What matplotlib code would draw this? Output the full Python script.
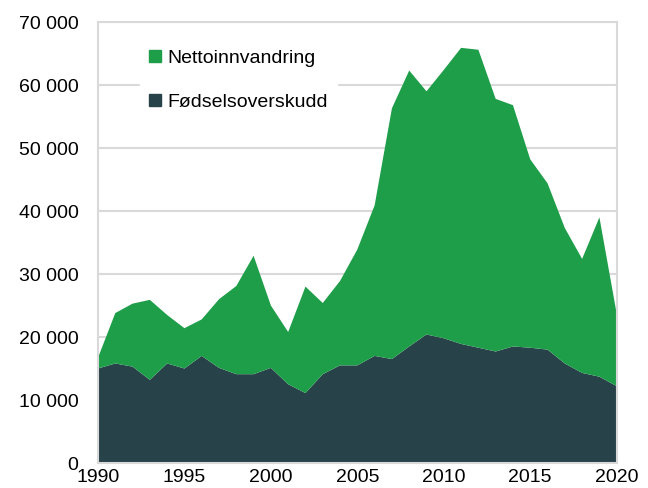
import matplotlib
matplotlib.use("Agg")
import matplotlib.pyplot as plt
from matplotlib.ticker import FuncFormatter, MultipleLocator
from matplotlib.lines import Line2D

plt.rcParams["font.family"] = ["Liberation Sans", "DejaVu Sans"]

# Befolkningsvekst etter komponent, 1990-2020
years = list(range(1990, 2021))
fodselsoverskudd = [15000, 15800, 15300, 13200, 15800, 15000, 17000, 15100, 14100, 14100,
                    15100, 12500, 11100, 14100, 15500, 15500, 17000, 16500, 18500, 20400,
                    19800, 18900, 18300, 17700, 18500, 18300, 18000, 15800, 14300, 13700,
                    12200]
nettoinnvandring = [1700, 8000, 10000, 12700, 7700, 6400, 5800, 10900, 14000, 18800,
                    9900, 8300, 16900, 11300, 13400, 18400, 23900, 39800, 43800, 38600,
                    42600, 47000, 47300, 40100, 38300, 29900, 26400, 21500, 18100, 25300,
                    11500]

dark = "#284249"
green = "#1f9e4a"
grid_col = "#d9d9d9"

fig = plt.figure(figsize=(6.48, 4.88), dpi=100)
ax = fig.add_axes([0.1512, 0.0512, 0.8005, 0.9037])

ax.stackplot(years, fodselsoverskudd, nettoinnvandring,
             colors=[dark, green], linewidth=0, zorder=2)

ax.set_xlim(1990, 2020)
ax.set_ylim(0, 70000)
ax.yaxis.set_major_locator(MultipleLocator(10000))
ax.yaxis.set_major_formatter(FuncFormatter(lambda v, p: f"{int(v):,}".replace(",", " ")))
ax.xaxis.set_major_locator(MultipleLocator(5))
ax.xaxis.set_minor_locator(MultipleLocator(1))

ax.grid(axis="y", color=grid_col, linewidth=1.5, zorder=0)
ax.set_axisbelow(True)
for s in ax.spines.values():
    s.set_color(grid_col)
    s.set_linewidth(1.5)
    s.set_zorder(3)

ax.tick_params(axis="both", which="both", direction="in", color=grid_col,
               length=4, width=1.2, labelsize=14, labelcolor="#000000")
ax.tick_params(axis="x", which="both", pad=4)
ax.tick_params(axis="y", pad=14)

handles = [Line2D([], [], marker="s", linestyle="none", markersize=8,
                  markerfacecolor=green, markeredgecolor=green),
           Line2D([], [], marker="s", linestyle="none", markersize=8,
                  markerfacecolor=dark, markeredgecolor=dark)]
leg = ax.legend(handles, ["Nettoinnvandring", "Fødselsoverskudd"],
                loc="upper left", bbox_to_anchor=(0.063, 0.98), fontsize=14,
                frameon=True, fancybox=False, framealpha=1, edgecolor="white",
                facecolor="white", handlelength=0.6, handletextpad=0.35,
                labelspacing=1.35, borderpad=0.45)
leg.set_zorder(4)

fig.savefig("out.png", dpi=100)
